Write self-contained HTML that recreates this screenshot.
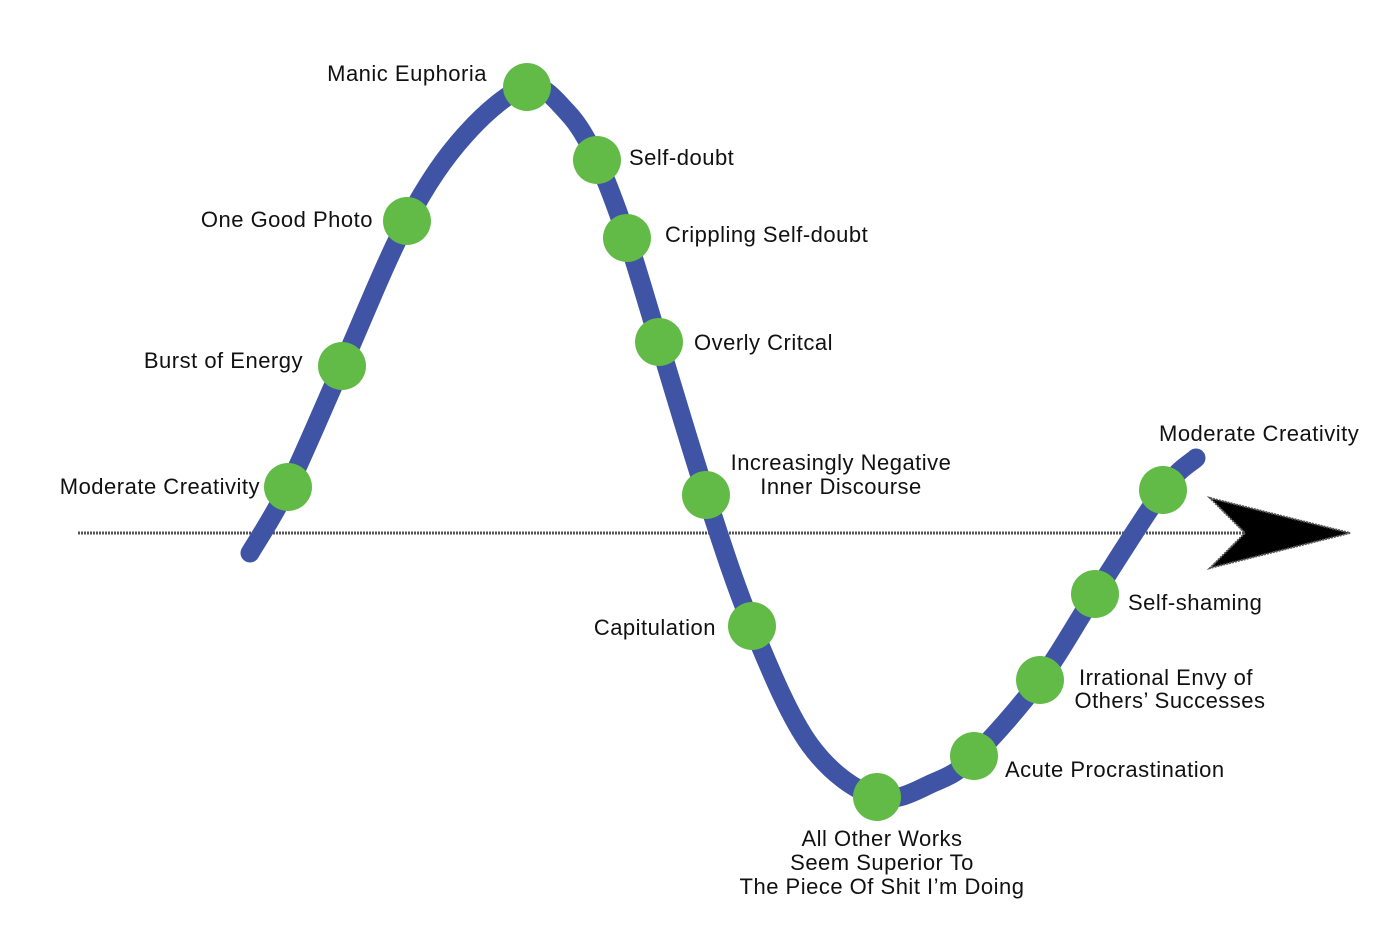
<!DOCTYPE html>
<html><head><meta charset="utf-8"><style>
html,body{margin:0;padding:0;background:#fff;}
svg{display:block}
text{font-family:"Liberation Sans",Arial,sans-serif;font-size:22px;fill:#111;letter-spacing:0.5px;}
</style></head><body>
<svg width="1400" height="943" viewBox="0 0 1400 943" xmlns="http://www.w3.org/2000/svg">
<line x1="78" y1="533" x2="1250" y2="533" stroke="#555" stroke-width="3" stroke-dasharray="2,1"/>
<polygon points="1210,498 1350,533 1210,568 1245,533" fill="#000" stroke="#555" stroke-width="2" stroke-dasharray="2,1"/>
<path id="curve" d="" fill="none" stroke="#4054a6" stroke-width="19" stroke-linecap="round" stroke-linejoin="round"/>
<g fill="#62bb46">
<circle cx="288" cy="487" r="24"/><circle cx="342" cy="366" r="24"/><circle cx="407" cy="221" r="24"/>
<circle cx="527" cy="87" r="24"/><circle cx="597" cy="160" r="24"/><circle cx="627" cy="238" r="24"/>
<circle cx="659" cy="342" r="24"/><circle cx="706" cy="495" r="24"/><circle cx="752" cy="626" r="24"/>
<circle cx="877" cy="797" r="24"/><circle cx="974" cy="756" r="24"/><circle cx="1040" cy="680" r="24"/>
<circle cx="1095" cy="594" r="24"/><circle cx="1163" cy="490" r="24"/>
</g>
<text x="487" y="81" text-anchor="end">Manic Euphoria</text>
<text x="629" y="165">Self-doubt</text>
<text x="665" y="242">Crippling Self-doubt</text>
<text x="373" y="227" text-anchor="end">One Good Photo</text>
<text x="303" y="368" text-anchor="end">Burst of Energy</text>
<text x="694" y="350">Overly Critcal</text>
<text x="260" y="494" text-anchor="end">Moderate Creativity</text>
<text x="841" y="470" text-anchor="middle">Increasingly Negative</text>
<text x="841" y="494" text-anchor="middle">Inner Discourse</text>
<text x="1159" y="441">Moderate Creativity</text>
<text x="716" y="635" text-anchor="end">Capitulation</text>
<text x="1128" y="610">Self-shaming</text>
<text x="1166" y="685" text-anchor="middle">Irrational Envy of</text>
<text x="1170" y="708" text-anchor="middle">Others’ Successes</text>
<text x="1005" y="777">Acute Procrastination</text>
<text x="882" y="846" text-anchor="middle">All Other Works</text>
<text x="882" y="870" text-anchor="middle">Seem Superior To</text>
<text x="882" y="894" text-anchor="middle">The Piece Of Shit I’m Doing</text>
</svg>
<script>
var p=[[250,553],[288,487],[342,366],[407,221],[465,135],[527,87],[567,112],[597,160],[627,238],[659,342],[706,495],[752,626],[810,745],[877,797],[935,782],[974,756],[1040,680],[1095,594],[1163,490],[1196,458]];
var d="M"+p[0][0]+","+p[0][1];
for(var i=0;i<p.length-1;i++){var a=p[Math.max(i-1,0)],b=p[i],c=p[i+1],e=p[Math.min(i+2,p.length-1)];
d+=" C"+(b[0]+(c[0]-a[0])/6)+","+(b[1]+(c[1]-a[1])/6)+" "+(c[0]-(e[0]-b[0])/6)+","+(c[1]-(e[1]-b[1])/6)+" "+c[0]+","+c[1];}
document.getElementById("curve").setAttribute("d",d);
</script>
</body></html>
